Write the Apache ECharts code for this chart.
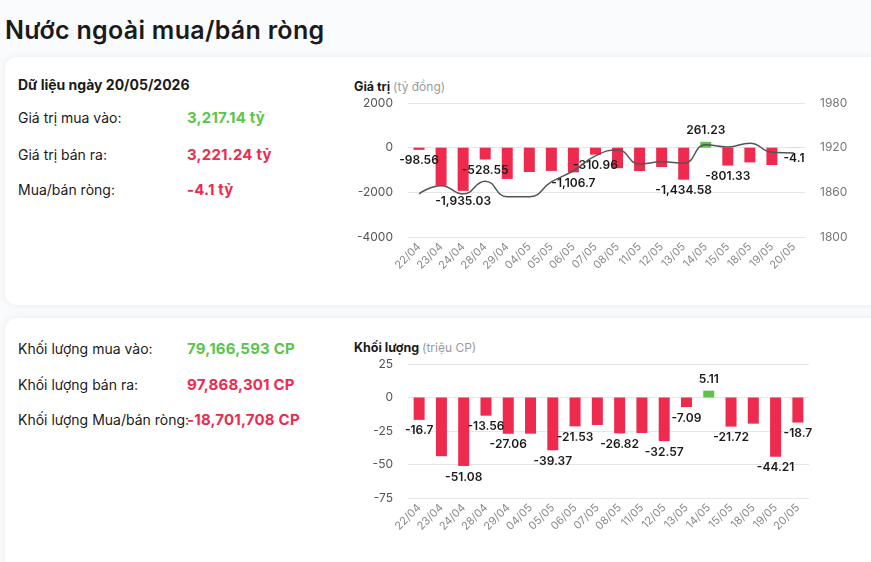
<!DOCTYPE html>
<html>
<head>
<meta charset="utf-8">
<script src="https://cdn.jsdelivr.net/npm/echarts@6/dist/echarts.min.js"></script>
<style>
  html, body { margin: 0; padding: 0; }
  body {
    width: 871px; height: 562px; overflow: hidden; position: relative;
    background: #fafbfc; font-family: Inter, Roboto, sans-serif; color: #1a1a1a;
  }
  .title { position: absolute; left: 5px; top: 13px; font-size: 25px; font-weight: 600; line-height: 34px; letter-spacing: 0.3px; }
  .card {
    position: absolute; left: 5px; width: 880px; background: #fff; border-radius: 12px;
    box-shadow: 0 0 8px rgba(0, 0, 0, 0.07);
  }
  .txt { position: absolute; font-size: 14px; line-height: 20px; white-space: nowrap; }
  .val { position: absolute; left: 187px; font-size: 15px; font-weight: 700; line-height: 20px; white-space: nowrap; letter-spacing: 0.2px; }
  .green { color: #5cc44b; }
  .red { color: #ee2a4f; }
  .ctitle { position: absolute; left: 354px; font-size: 12.5px; font-weight: 700; line-height: 18px; }
  .ctitle span { font-weight: 400; color: #9a9a9a; font-size: 12px; }
  #chart { position: absolute; left: 0; top: 0; width: 871px; height: 562px; }
</style>
</head>
<body>
  <div class="title">Nước ngoài mua/bán ròng</div>
  <div class="card" style="top:57px;height:248px;"></div>
  <div class="card" style="top:318px;height:260px;"></div>

  <div class="txt" style="left:18px;top:75px;font-weight:700;">Dữ liệu ngày 20/05/2026</div>
  <div class="txt" style="left:18px;top:108px;">Giá trị mua vào:</div>
  <div class="val green" style="top:108px;">3,217.14 tỷ</div>
  <div class="txt" style="left:18px;top:145px;">Giá trị bán ra:</div>
  <div class="val red" style="top:145px;">3,221.24 tỷ</div>
  <div class="txt" style="left:18px;top:180px;">Mua/bán ròng:</div>
  <div class="val red" style="top:180px;">-4.1 tỷ</div>

  <div class="txt" style="left:18px;top:339px;">Khối lượng mua vào:</div>
  <div class="val green" style="top:339px;">79,166,593 CP</div>
  <div class="txt" style="left:18px;top:375px;">Khối lượng bán ra:</div>
  <div class="val red" style="top:375px;">97,868,301 CP</div>
  <div class="txt" style="left:18px;top:410px;">Khối lượng Mua/bán ròng:</div>
  <div class="val red" style="top:410px;">-18,701,708 CP</div>

  <div class="ctitle" style="top:78px;">Giá trị <span>(tỷ đồng)</span></div>
  <div class="ctitle" style="top:339px;">Khối lượng <span>(triệu CP)</span></div>

  <div id="chart"></div>

<script>
const days = ['22/04', '23/04', '24/04', '28/04', '29/04', '04/05', '05/05', '06/05', '07/05',
  '08/05', '11/05', '12/05', '13/05', '14/05', '15/05', '18/05', '19/05', '20/05']
// net value, ty dong
const netValue = [-98.56, -1700, -1935.03, -528.55, -1400, -1090, -1040, -1106.7, -310.96,
  -920, -1045, -865, -1434.58, 261.23, -801.33, -660, -775, -4.1]
// index line (right axis)
const indexLine = [1858, 1869, 1858, 1875, 1854, 1854, 1874, 1889, 1909,
  1917, 1898, 1901, 1899, 1924, 1921, 1926, 1914, 1913]
// net volume, trieu CP
const netVolume = [-16.7, -43.8, -51.08, -13.56, -27.06, -27, -39.37, -21.53, -20.5,
  -26.82, -26.5, -32.57, -7.09, 5.11, -21.72, -19.5, -44.21, -18.7]
// which bars carry a value label
const valueLabelDays = ['22/04', '24/04', '28/04', '06/05', '07/05', '13/05', '14/05', '15/05', '20/05']
const volumeLabelDays = ['22/04', '24/04', '28/04', '29/04', '05/05', '06/05', '08/05', '12/05',
  '13/05', '14/05', '15/05', '19/05', '20/05']

const RED = '#ee2a4f'
const GREEN = '#5cc44b'

function fmt (v) {
  return v.toLocaleString('en-US', { maximumFractionDigits: 2 })
}

function barData (values, labelDays) {
  return values.map((v, i) => ({
    value: v,
    itemStyle: { color: v >= 0 ? GREEN : RED },
    label: {
      show: labelDays.indexOf(days[i]) >= 0,
      position: v >= 0 ? 'top' : 'bottom'
    }
  }))
}

const barLabel = {
  distance: 5,
  color: '#1a1a1a',
  fontSize: 12,
  fontWeight: 600,
  fontFamily: 'Inter, Roboto, sans-serif',
  formatter: p => fmt(p.value)
}

const xAxisBase = {
  type: 'category',
  data: days,
  axisLine: { show: false },
  axisTick: { show: false },
  axisLabel: { rotate: 45, color: '#8a8a8a', fontSize: 11, margin: 8, fontFamily: 'Inter, Roboto, sans-serif' }
}

const yLabel = { color: '#555', fontSize: 12, margin: 15, fontFamily: 'Inter, Roboto, sans-serif', formatter: v => String(v) }
const split = { lineStyle: { color: '#e6e6e6' } }

const myChart = echarts.init(document.getElementById('chart'))
myChart.setOption({
  animation: false,
  grid: [
    { left: 408, top: 103, width: 397, height: 134 },
    { left: 408, top: 364, width: 401, height: 134 }
  ],
  xAxis: [
    { ...xAxisBase, gridIndex: 0 },
    { ...xAxisBase, gridIndex: 1 }
  ],
  yAxis: [
    { type: 'value', gridIndex: 0, min: -4000, max: 2000, interval: 2000, axisLabel: yLabel, splitLine: split },
    { type: 'value', gridIndex: 0, position: 'right', min: 1800, max: 1980, interval: 60,
      axisLabel: { ...yLabel, color: '#777' }, splitLine: { show: false } },
    { type: 'value', gridIndex: 1, min: -75, max: 25, interval: 25, axisLabel: yLabel, splitLine: split }
  ],
  series: [
    {
      type: 'bar', xAxisIndex: 0, yAxisIndex: 0, barWidth: 11,
      data: barData(netValue, valueLabelDays), label: barLabel
    },
    {
      type: 'line', xAxisIndex: 0, yAxisIndex: 1, data: indexLine, smooth: true,
      symbol: 'none', lineStyle: { color: '#555', width: 1.5 }
    },
    {
      type: 'bar', xAxisIndex: 1, yAxisIndex: 2, barWidth: 11,
      data: barData(netVolume, volumeLabelDays), label: barLabel
    }
  ]
})
</script>
</body>
</html>
